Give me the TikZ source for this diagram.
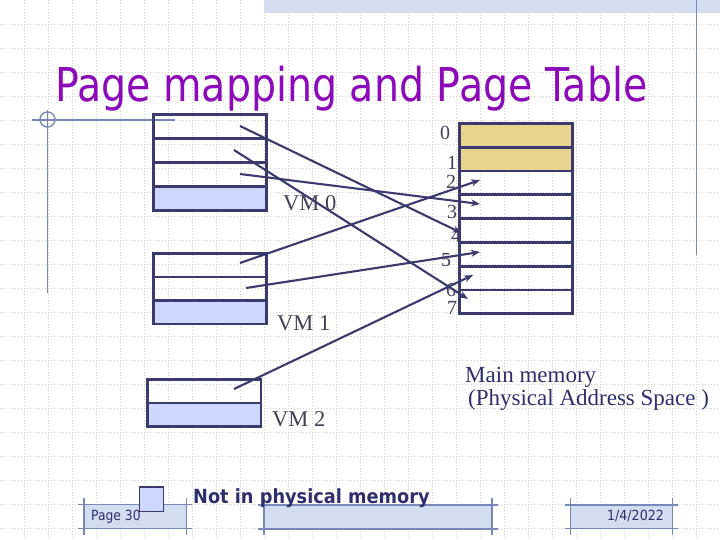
\documentclass[tikz,border=0pt]{standalone}
\usepackage{fontspec}
\usepackage{graphicx}
\setmainfont{Liberation Serif}
\newfontfamily\sansf{DejaVu Sans}
\usetikzlibrary{arrows.meta}
\definecolor{titlec}{RGB}{140,10,185}
\definecolor{boxc}{RGB}{58,58,110}
\definecolor{vmblue}{RGB}{204,216,255}
\definecolor{memyel}{RGB}{232,212,140}
\definecolor{labc}{RGB}{64,64,88}
\definecolor{navyt}{RGB}{46,46,110}
\definecolor{hatchc}{RGB}{212,221,240}
\definecolor{rulec}{RGB}{120,135,185}
\definecolor{gridc}{RGB}{205,205,205}
\tikzset{
  gridl/.style={draw=gridc, line width=0.6pt, dash pattern=on 1pt off 2pt},
  rulel/.style={draw=rulec, line width=1.4pt},
  rowbox/.style={draw=boxc, line width=2.8pt, minimum width=113pt, minimum height=24pt, inner sep=0pt, anchor=north west},
  bluerow/.style={rowbox, fill=vmblue},
  yelrow/.style={rowbox, fill=memyel},
  arr/.style={draw=boxc, line width=2.1pt, -{Stealth[length=9pt,width=7pt]}},
  lab/.style={text=labc, font=\fontsize{20}{20}\selectfont, inner sep=0pt, anchor=base west},
  vmlab/.style={text=labc, font=\fontsize{22.5}{22.5}\selectfont, inner sep=0pt, anchor=base west},
  memlab/.style={text=navyt, font=\fontsize{23}{23}\selectfont, inner sep=0pt, anchor=base west},
  foot/.style={text=navyt, inner sep=0pt},
}
\begin{document}
\begin{tikzpicture}[x=1pt,y=-1pt]
\useasboundingbox (0,0) rectangle (720,540);
\fill[white] (0,0) rectangle (720,540);
% grid
\foreach \x in {24,48,...,696} \draw[gridl] (\x,0) -- (\x,540);
\foreach \y in {24,48,...,528} \draw[gridl] (0,\y) -- (720,\y);
% top bar and rules
\fill[hatchc] (264,0) rectangle (720,13);
\draw[rulel] (696.5,0) -- (696.5,255);
\draw[rulel] (32,120) -- (175,120);
\draw[rulel] (47.5,110) -- (47.5,293);
\draw[rulel] (47.5,119.5) circle (7.5);
% title
\node[anchor=base west, inner sep=0pt, text=titlec] (title) at (55,102)
  {\scalebox{0.848}[1]{\sansf\fontsize{46.6}{50}\selectfont Page mapping and Page Table}};
% VM0
\node[rowbox] (a0) at (152,113) {};
\node[rowbox] (a1) at (152,137) {};
\node[rowbox] (a2) at (152,161) {};
\node[bluerow] (a3) at (152,185) {};
% VM1
\node[rowbox, minimum height=23.5pt] (b0) at (152,252) {};
\node[rowbox, minimum height=23.5pt] (b1) at (152,275.5) {};
\node[bluerow, minimum height=23.5pt] (b2) at (152,299) {};
% VM2
\node[rowbox, minimum height=23.5pt, minimum width=113.5pt] (c0) at (146,378) {};
\node[bluerow, minimum height=23.5pt, minimum width=113.5pt] (c1) at (146,401.5) {};
% main memory
\node[yelrow, minimum height=23.8pt] (m0) at (458,122) {};
\node[yelrow, minimum height=23.8pt] (m1) at (458,145.8) {};
\node[rowbox, minimum height=23.8pt] (m2) at (458,169.6) {};
\node[rowbox, minimum height=23.8pt] (m3) at (458,193.4) {};
\node[rowbox, minimum height=23.8pt] (m4) at (458,217.2) {};
\node[rowbox, minimum height=23.8pt] (m5) at (458,241) {};
\node[rowbox, minimum height=23.8pt] (m6) at (458,264.8) {};
\node[rowbox, minimum height=23.8pt] (m7) at (458,288.6) {};
% frame numbers
\node[lab] (n0) at (440,140) {0};
\node[lab] (n1) at (447,170) {1};
\node[lab] (n2) at (446,188.3) {2};
\node[lab] (n3) at (447,218.3) {3};
\node[lab] (n4) at (451,242.7) {4};
\node[lab] (n5) at (441,266.7) {5};
\node[lab] (n6) at (446,296.7) {6};
\node[lab] (n7) at (447,314) {7};
% arrow end points
\coordinate (s0) at (240,126);
\coordinate (s1) at (234,150);
\coordinate (s2) at (240,174);
\coordinate (s3) at (240,263);
\coordinate (s4) at (246,288);
\coordinate (s5) at (234,389);
\coordinate (t0) at (461.5,233);
\coordinate (t1) at (468,299);
\coordinate (t2) at (480,204);
\coordinate (t3) at (480,180);
\coordinate (t4) at (480,252);
\coordinate (t5) at (473,275);
\draw[arr] (s0) -- (t0);
\draw[arr] (s1) -- (t1);
\draw[arr] (s2) -- (t2);
\draw[arr] (s3) -- (t3);
\draw[arr] (s4) -- (t4);
\draw[arr] (s5) -- (t5);
% VM labels
\node[vmlab] (l0) at (283,210.5) {VM 0};
\node[vmlab] (l1) at (277,330) {VM 1};
\node[vmlab] (l2) at (272,426.5) {VM 2};
% main memory label
\node[memlab] (mm1) at (465,382) {Main memory};
\node[memlab] (mm2) at (468,405) {(Physical Address Space )};
% footer
\fill[hatchc] (84,504.5) rectangle (186.5,528.5);
\draw[rulel] (78,504.5) -- (192,504.5);
\draw[rulel] (78,528.5) -- (192,528.5);
\draw[rulel] (84,498) -- (84,535);
\draw[rulel] (186.5,498) -- (186.5,535);
\fill[hatchc] (264,505) rectangle (492,529);
\draw[rulel] (258,505) -- (498,505);
\draw[rulel] (258,529) -- (498,529);
\draw[rulel] (264,498) -- (264,535);
\draw[rulel] (492,498) -- (492,535);
\fill[hatchc] (570.5,505) rectangle (672.5,528.5);
\draw[rulel] (565,505) -- (678,505);
\draw[rulel] (565,528.5) -- (678,528.5);
\draw[rulel] (570.5,498) -- (570.5,535);
\draw[rulel] (672.5,498) -- (672.5,535);
\node[draw=boxc, line width=1.5pt, fill=vmblue, minimum width=24pt, minimum height=24.5pt, inner sep=0pt, anchor=north west] (sq) at (138.5,486) {};
\node[foot, anchor=base west] (pg) at (91,520) {\scalebox{0.88}[1]{\sansf\fontsize{14}{14}\selectfont Page 30}};
\node[foot, anchor=base east] (dt) at (664,520) {\scalebox{0.9}[1]{\sansf\fontsize{14}{14}\selectfont 1/4/2022}};
\node[foot, anchor=base west] (nip) at (193,503.5) {\scalebox{0.91}[1]{\sansf\bfseries\fontsize{19.5}{20}\selectfont Not in physical memory}};
\end{tikzpicture}
\end{document}
